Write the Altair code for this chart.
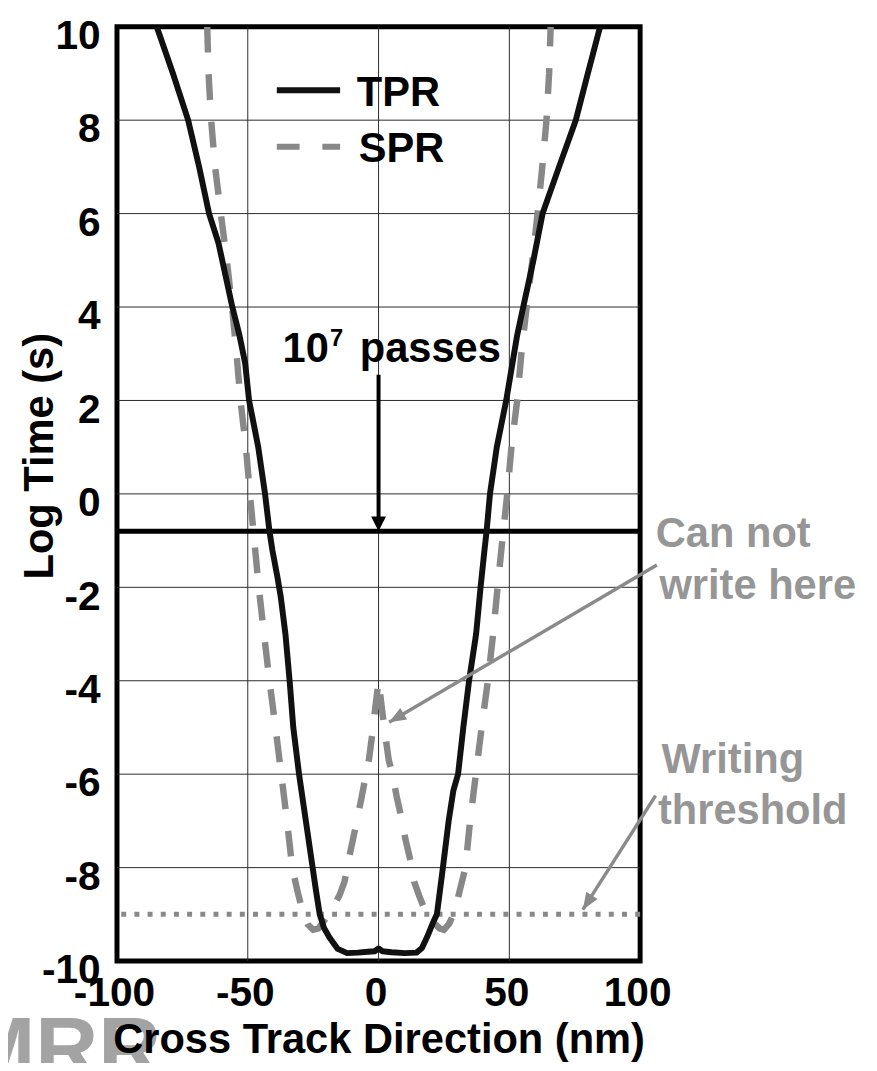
import math
import altair as alt
import pandas as pd

# ---------------- data ----------------
x_ticks = [-100, -50, 0, 50, 100]
y_ticks = [-10, -8, -6, -4, -2, 0, 2, 4, 6, 8, 10]
grid_x = [-50, 0, 50]
grid_y = [-8, -6, -4, -2, 0, 2, 4, 6, 8]

# TPR (solid black) : cross-track position (nm) vs log time (s)
tpr_x = [-84.8, -78.6, -72.8, -68.6, -64.8, -61.2, -58.6, -55.9, -53.2, -51.0,
         -49.5, -46.0, -43.4, -41.7, -40.6, -38.6, -37.4, -35.6, -34.0, -32.6,
         -30.4, -27.8, -25.2, -23.9, -22.5, -20.8, -18.7, -15.6, -12.0, -8.0,
         -4.0, -1.5, 0.0, 1.5, 5.0, 10.0, 14.5, 16.6, 18.6, 20.5,
         22.3, 24.6, 26.8, 28.6, 30.4, 32.4, 34.6, 37.3, 39.0, 40.5,
         41.3, 42.6, 45.2, 48.8, 50.6, 53.0, 55.3, 59.2, 62.7, 69.0,
         75.4, 80.0, 84.7]
tpr_y = [10.0, 9.0, 8.0, 7.0, 6.0, 5.37, 4.7, 4.0, 3.4, 2.8,
         2.0, 1.0, 0.0, -0.8, -1.2, -1.8, -2.2, -3.0, -4.0, -5.0,
         -6.0, -7.0, -8.0, -8.5, -9.0, -9.3, -9.5, -9.74, -9.83, -9.82,
         -9.8, -9.79, -9.73, -9.79, -9.81, -9.83, -9.82, -9.72, -9.48, -9.22,
         -9.0, -8.0, -7.0, -6.35, -6.0, -5.0, -4.0, -3.0, -2.0, -1.2,
         -0.8, 0.0, 1.0, 2.0, 2.6, 3.4, 4.0, 5.0, 6.0, 7.0,
         8.0, 9.0, 10.0]

# SPR (grey dashed)
spr_x = [-65.5, -65.0, -64.0, -62.5, -60.3, -58.0, -56.0, -54.3, -52.8, -50.7,
         -49.2, -47.5, -45.8, -43.8, -41.7, -39.4, -37.2, -35.0, -33.0, -31.0,
         -28.8, -27.0, -25.0, -23.0, -21.0, -19.0, -17.4, -15.0, -13.0, -11.5,
         -9.8, -8.3, -6.5, -4.8, -3.7, -2.3, -1.3, 0.0, 1.3, 2.4,
         3.9, 5.3, 7.0, 9.0, 10.3, 12.2, 13.6, 15.5, 17.4, 19.2,
         21.2, 23.3, 25.0, 27.0, 29.0, 31.0, 33.2, 35.0, 37.2, 39.4,
         41.8, 43.8, 45.5, 47.3, 49.2, 50.8, 53.0, 54.6, 56.6, 58.8,
         60.8, 62.6, 64.2, 65.2, 65.8]
spr_y = [10.0, 9.0, 8.0, 7.0, 6.0, 5.0, 4.0, 3.0, 2.0, 1.0,
         0.0, -1.0, -2.0, -3.0, -4.0, -5.0, -6.0, -7.0, -8.0, -8.5,
         -9.0, -9.22, -9.33, -9.3, -9.15, -9.0, -8.85, -8.6, -8.3, -7.85,
         -7.4, -7.0, -6.5, -6.0, -5.7, -5.1, -4.6, -4.0, -4.6, -5.1,
         -5.7, -6.0, -6.5, -7.0, -7.4, -7.85, -8.3, -8.6, -8.87, -9.0,
         -9.18, -9.3, -9.33, -9.2, -8.95, -8.5, -8.0, -7.0, -6.0, -5.0,
         -4.0, -3.0, -2.0, -1.0, 0.0, 1.0, 2.0, 3.0, 4.0, 5.0,
         6.0, 7.0, 8.0, 9.0, 10.0]

passes_level = [-0.8]        # 10^7 passes line
writing_threshold = [-9.0]   # writing threshold line

# annotation anchors (data coordinates)
passes_arrow_x = [0.0]
passes_arrow_top = [2.55]
gray_arrow_start_x = [106.4, 105.9]
gray_arrow_start_y = [-1.52, -6.46]
gray_arrow_tip_x = [4.05, 78.1]
gray_arrow_tip_y = [-4.89, -8.9]

legend_x = [-38.9]
legend_x2 = [-14.7]
legend_tpr_y = [8.64]
legend_spr_y = [7.43]

big_black_text = ["TPR", "SPR", "10", "passes"]
big_black_x = [-8.3, -7.6, -36.7, -7.2]
big_black_y = [8.31, 7.11, 2.82, 2.82]
sup_text = ["7"]
sup_x = [-18.6]
sup_y = [3.17]
gray_text = ["Can not", "write here", "Writing", "threshold"]
gray_text_x = [106.0, 107.4, 108.2, 106.8]
gray_text_y = [-1.13, -2.26, -5.97, -7.07]
mark_text = ["MRR"]
mark_x = [-159.0]
mark_y = [-12.5]

# ---------------- chart ----------------
W, H = 528, 943
FONT = "Liberation Sans"
GRAY = "#888888"

xs = alt.Scale(domain=[-100, 100], nice=False, zero=False)
ys = alt.Scale(domain=[-10, 10], nice=False, zero=False)

x_axis = alt.Axis(
    values=x_ticks, title="Cross Track Direction (nm)", grid=False, ticks=False,
    tickSize=0, domain=False, labelFlush=False, labelOverlap=False,
    labelFont=FONT, labelFontSize=41, labelFontWeight="bold", labelColor="black",
    labelBaseline="alphabetic", labelPadding=45, labelOffset=-3,
    labelExpr="datum.value + ''",
    titleFont=FONT, titleFontSize=42, titleFontWeight="bold", titleColor="black",
    titleBaseline="alphabetic", titleAlign="center", titleX=W / 2, titleY=92,
    zindex=1)
y_axis = alt.Axis(
    values=y_ticks, title="Log Time (s)", grid=False, ticks=False, tickSize=0,
    domain=False, labelFlush=False, labelOverlap=False,
    labelFont=FONT, labelFontSize=41, labelFontWeight="bold", labelColor="black",
    labelBaseline="alphabetic", labelPadding=17, labelOffset=22,
    labelExpr="datum.value + ''",
    titleFont=FONT, titleFontSize=42, titleFontWeight="bold", titleColor="black",
    titleBaseline="alphabetic", titleAlign="center", titleAngle=270,
    titleX=-65, titleY=433, zindex=1)


def X(f="x"):
    return alt.X(f"{f}:Q", scale=xs, axis=x_axis)


def Y(f="y"):
    return alt.Y(f"{f}:Q", scale=ys, axis=y_axis)


tpr_df = pd.DataFrame({"x": tpr_x, "y": tpr_y, "i": range(len(tpr_x))})
spr_df = pd.DataFrame({"x": spr_x, "y": spr_y, "i": range(len(spr_x))})

grid_h = alt.Chart(pd.DataFrame({"y": grid_y})).mark_rule(
    color="#2a2a2a", strokeWidth=1).encode(y=Y())
grid_v = alt.Chart(pd.DataFrame({"x": grid_x})).mark_rule(
    color="#2a2a2a", strokeWidth=1).encode(x=X())

thresh = alt.Chart(pd.DataFrame({"y": writing_threshold})).mark_rule(
    color=GRAY, strokeWidth=5, strokeDash=[5, 8.3]).encode(y=Y())
passes = alt.Chart(pd.DataFrame({"y": passes_level})).mark_rule(
    color="black", strokeWidth=5).encode(y=Y())

spr = alt.Chart(spr_df).mark_line(
    color=GRAY, strokeWidth=6.5, strokeDash=[26, 22], clip=True).encode(
    x=X(), y=Y(), order=alt.Order("i:Q"))
tpr = alt.Chart(tpr_df).mark_line(
    color="#111111", strokeWidth=6, clip=True, strokeJoin="round").encode(
    x=X(), y=Y(), order=alt.Order("i:Q"))

# black arrow for 10^7 passes
shaft_df = pd.DataFrame({"x": passes_arrow_x, "y": passes_arrow_top,
                         "y2": [passes_level[0] + 0.2]})
shaft = alt.Chart(shaft_df).mark_rule(color="black", strokeWidth=4).encode(
    x=X(), y=Y(), y2="y2:Q")
head_df = pd.DataFrame({"x": passes_arrow_x, "y": passes_level, "angle": [0.0]})
head = alt.Chart(head_df).mark_point(
    shape="M0,0L-1,-2L1,-2Z", size=225, filled=True, color="black",
    opacity=1, strokeWidth=0).encode(
    x=X(), y=Y(), angle=alt.Angle("angle:Q", scale=None))

# grey arrows
angles = []
for sx, sy, tx, ty in zip(gray_arrow_start_x, gray_arrow_start_y,
                          gray_arrow_tip_x, gray_arrow_tip_y):
    dx = (tx - sx) * W / 200.0
    dy = -(ty - sy) * H / 20.0
    angles.append(math.degrees(math.atan2(dy, dx)) - 90.0)
garrow_df = pd.DataFrame({"x": gray_arrow_start_x, "y": gray_arrow_start_y,
                          "x2": gray_arrow_tip_x, "y2": gray_arrow_tip_y})
garrow = alt.Chart(garrow_df).mark_rule(color="#8a8a8a", strokeWidth=3.5).encode(
    x=X(), y=Y(), x2="x2:Q", y2="y2:Q")
ghead_df = pd.DataFrame({"x": gray_arrow_tip_x, "y": gray_arrow_tip_y,
                         "angle": angles})
ghead = alt.Chart(ghead_df).mark_point(
    shape="M0,0L-0.8,-2L0.8,-2Z", size=289, filled=True, color="#8a8a8a",
    opacity=1, strokeWidth=0).encode(
    x=X(), y=Y(), angle=alt.Angle("angle:Q", scale=None))

# legend samples
leg_tpr = alt.Chart(pd.DataFrame({"x": legend_x, "x2": legend_x2,
                                  "y": legend_tpr_y})).mark_rule(
    color="#111111", strokeWidth=6).encode(x=X(), x2="x2:Q", y=Y())
leg_spr = alt.Chart(pd.DataFrame({"x": legend_x, "x2": legend_x2,
                                  "y": legend_spr_y})).mark_rule(
    color=GRAY, strokeWidth=6, strokeDash=[23, 23]).encode(x=X(), x2="x2:Q", y=Y())


# texts
def text_layer(texts, xv, yv, size, color, weight="bold"):
    df = pd.DataFrame({"x": xv, "y": yv, "t": texts})
    return alt.Chart(df).mark_text(
        align="left", baseline="alphabetic", font=FONT, fontSize=size,
        fontWeight=weight, color=color).encode(x=X(), y=Y(), text="t:N")


txt_black = text_layer(big_black_text, big_black_x, big_black_y, 42, "black")
txt_sup = text_layer(sup_text, sup_x, sup_y, 24, "black")
txt_gray = text_layer(gray_text, gray_text_x, gray_text_y, 42, "#969696")
txt_mark = text_layer(mark_text, mark_x, mark_y, 88, "#a3a3a3")

chart = alt.layer(
    grid_h, grid_v, thresh, passes, spr, tpr, shaft, head, garrow, ghead,
    leg_tpr, leg_spr, txt_black, txt_sup, txt_gray, txt_mark
).properties(
    width=W, height=H,
    autosize=alt.AutoSizeParams(type="none"),
    padding={"left": 110, "top": 14, "right": 231, "bottom": 98},
    background="white",
).configure_view(stroke="black", strokeWidth=5)

chart.save("out.html", embed_options={"renderer": "svg", "actions": False})
